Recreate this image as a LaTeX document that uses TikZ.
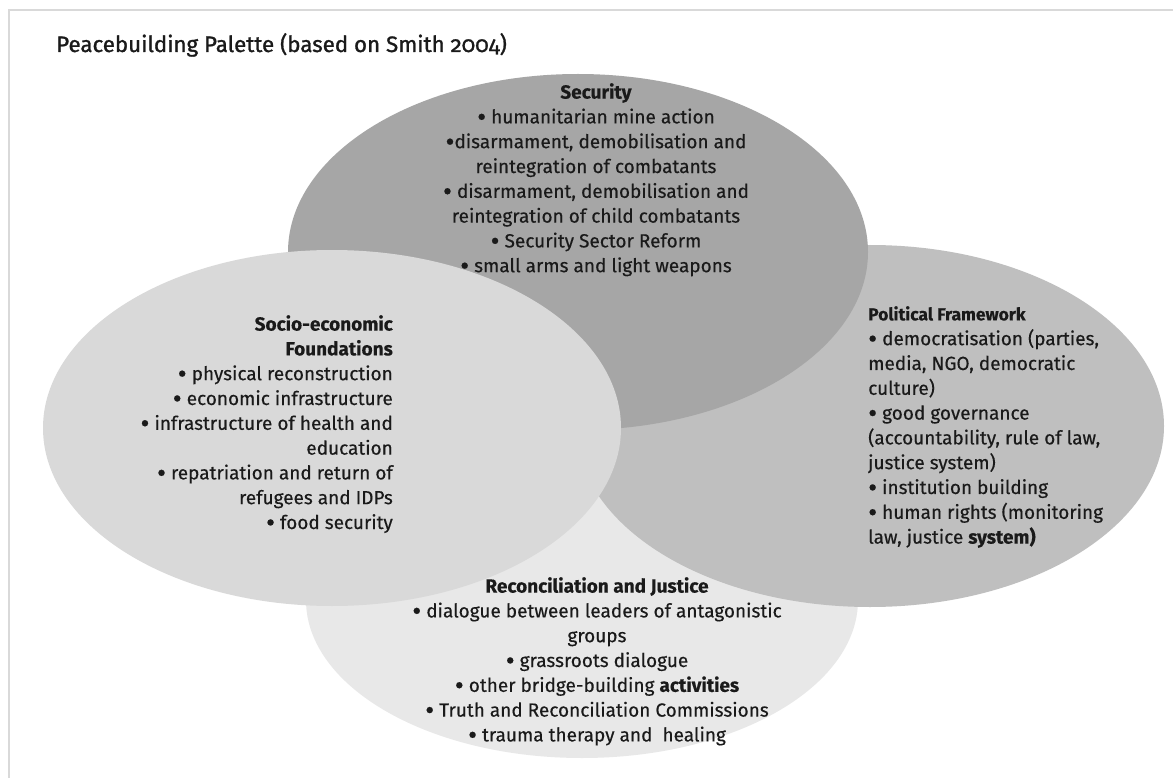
\documentclass[tikz,border=0pt]{standalone}
\usepackage{fontspec}
\setmainfont{Fira Sans}[Numbers=OldStyle, FakeBold=0.4]
\usetikzlibrary{shapes.geometric}

\definecolor{secfill}{HTML}{A6A6A6}
\definecolor{polfill}{HTML}{BFBFBF}
\definecolor{socfill}{HTML}{D9D9D9}
\definecolor{recfill}{HTML}{E8E8E8}
\definecolor{framegray}{HTML}{D9D9D9}
\definecolor{ink}{HTML}{1A1A1A}

\tikzset{
	blob/.style={ellipse, inner sep=0pt, draw=none},
	txt/.style={inner sep=0pt, text=ink, font=\fontsize{19}{24.8}\selectfont},
}

\begin{document}
\begin{tikzpicture}[x=1pt, y=-1pt]

\newcommand\bul{\smash{\raisebox{-0.15em}{\scalebox{1.45}{•}}}}

\useasboundingbox (0,0) rectangle (1173,778);
\fill[white] (0,0) rectangle (1173,778);

\draw[framegray, line width=2pt] (9,778) -- (9,10) -- (1173,10);

\node[txt, anchor=base west, font=\fontsize{22.3}{28}\selectfont\addfontfeature{FakeBold=1.2}] (title) at (56,52) {Peacebuilding Palette (based on Smith 2004)};

% back to front
\foreach \name/\cx/\cy/\rx/\ry/\col in {recon/582/600/276/158/recfill, polit/870/426/294/181/polfill, secur/578/252/290/178/secfill, socio/332/428/289/178/socfill} {
	\node[blob, fill=\col, minimum width={2*\rx pt}, minimum height={2*\ry pt}] (\name) at (\cx,\cy) {};
}

\node[txt, anchor=north, align=center] (sectxt) at (596,83) {\textbf{Security}\\
	\bul{} humanitarian mine action\\
	\bul{}disarmament, demobilisation and\\
	reintegration of combatants\\
	\bul{} disarmament, demobilisation and\\
	reintegration of child combatants\\
	\bul{} Security Sector Reform\\
	\bul{} small arms and light weapons};

\node[txt, anchor=north east, align=right] (soctxt) at (393,315) {\textbf{Socio-economic}\\
	\textbf{Foundations}\\
	\bul{} physical reconstruction\\
	\bul{} economic infrastructure\\
	\bul{} infrastructure of health and\\
	education\\
	\bul{} repatriation and return of\\
	refugees and IDPs\\
	\bul{} food security};

\node[txt, anchor=north west, align=left] (poltxt) at (868,306) {{\fontsize{17.5}{24.8}\selectfont\textbf{Political Framework}}\\
	\bul{} democratisation (parties,\\
	media, NGO, democratic\\
	culture)\\
	\bul{} good governance\\
	(accountability, rule of law,\\
	justice system)\\
	\bul{} institution building\\
	\bul{} human rights (monitoring\\
	law, justice \textbf{system)}};

\node[txt, anchor=north, align=center] (rectxt) at (597,577) {\textbf{Reconciliation and Justice}\\
	\bul{} dialogue between leaders of antagonistic\\
	groups\\
	\bul{} grassroots dialogue\\
	\bul{} other bridge-building \textbf{activities}\\
	\bul{} Truth and Reconciliation Commissions\\
	\bul{} trauma therapy and~ healing};

\end{tikzpicture}
\end{document}
